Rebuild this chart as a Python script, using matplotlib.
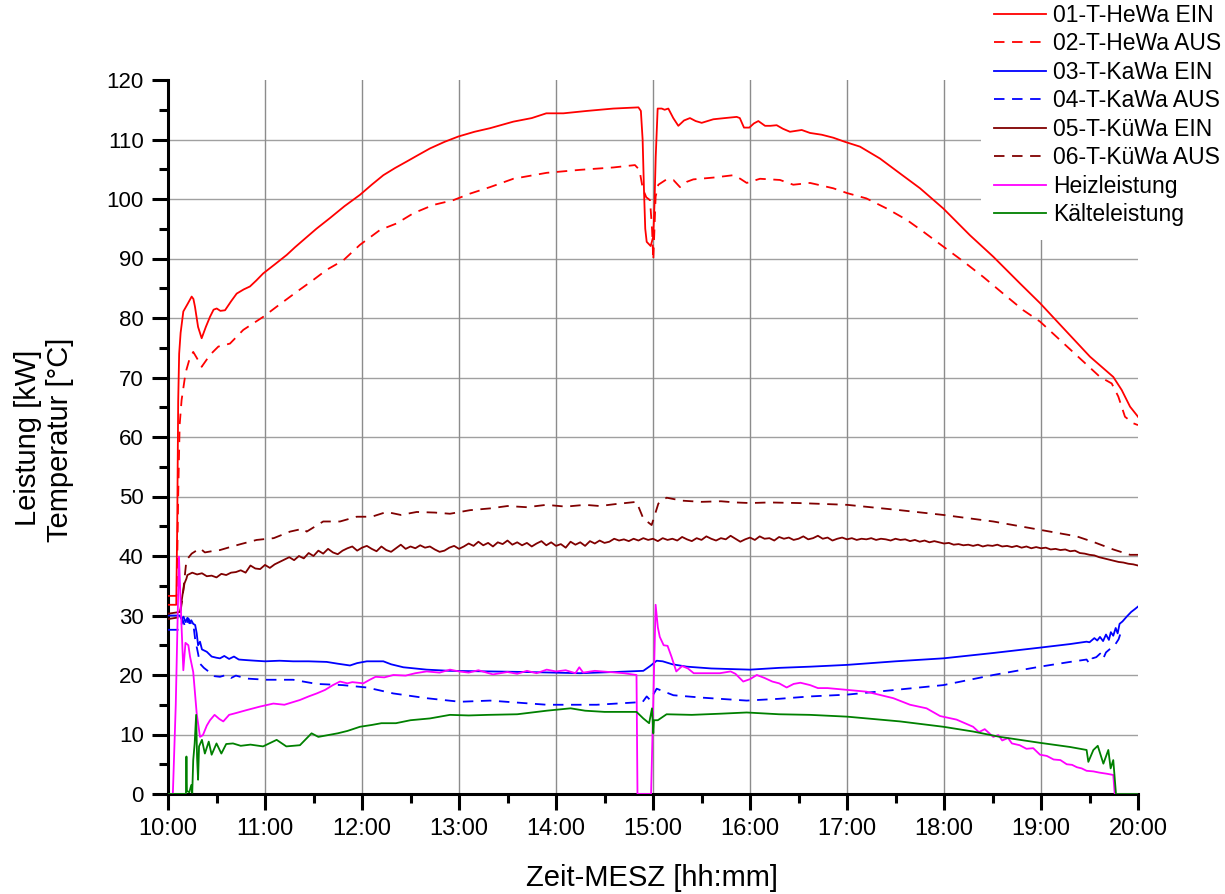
import numpy as np
import matplotlib
matplotlib.use('Agg')
import matplotlib.pyplot as plt
from matplotlib import font_manager
from matplotlib.ticker import MultipleLocator, FuncFormatter

# Schrift: Narrow fuer Achsen, falls vorhanden
names = {f.name for f in font_manager.fontManager.ttflist}
narrow = 'Liberation Sans Narrow' if 'Liberation Sans Narrow' in names else 'Liberation Sans'
plt.rcParams['font.family'] = 'Liberation Sans'

# ---- Daten (Zeit in Stunden) ----
# 01-T-HeWa EIN
hewa_ein_t = [10.0, 10.085, 10.095, 10.105, 10.115, 10.13, 10.158, 10.20, 10.244, 10.262, 10.278, 10.31,
              10.347, 10.39, 10.433, 10.47, 10.502, 10.54, 10.588, 10.65, 10.708, 10.78, 10.845, 10.91,
              10.982, 11.10, 11.224, 11.31, 11.395, 11.53, 11.67, 11.82, 11.979, 12.10, 12.22, 12.34,
              12.461, 12.58, 12.701, 12.85, 12.993, 13.16, 13.32, 13.56, 13.75, 13.90, 14.076, 14.317,
              14.59, 14.85, 14.875, 14.893, 14.907, 14.92, 14.935, 14.976, 15.003, 15.015, 15.028, 15.048,
              15.09, 15.12, 15.158, 15.209, 15.261, 15.32, 15.381, 15.44, 15.502, 15.622, 15.74, 15.863,
              15.895, 15.938, 15.993, 16.04, 16.086, 16.155, 16.21, 16.275, 16.34, 16.412, 16.533, 16.619,
              16.74, 16.859, 16.98, 17.134, 17.34, 17.546, 17.753, 17.993, 18.268, 18.508, 18.784, 18.99,
              19.23, 19.505, 19.745, 19.832, 19.918, 19.986, 20.0]
hewa_ein_v = [31.8, 31.8, 45.0, 66.0, 74.0, 77.5, 81.1, 82.3, 83.6, 83.2, 81.9, 78.5,
              76.6, 78.5, 80.2, 81.4, 81.6, 81.2, 81.3, 82.8, 84.1, 84.8, 85.3, 86.3,
              87.5, 89.0, 90.6, 91.9, 93.1, 95.0, 96.8, 98.8, 100.7, 102.4, 104.0, 105.2,
              106.3, 107.4, 108.5, 109.6, 110.5, 111.3, 111.9, 113.0, 113.6, 114.4, 114.4, 114.8,
              115.2, 115.4, 114.8, 110.0, 101.5, 95.0, 92.8, 92.1, 93.7, 99.0, 107.1, 115.2,
              115.2, 115.0, 115.2, 113.6, 112.3, 113.2, 113.6, 113.1, 112.8, 113.4, 113.6, 113.8,
              113.6, 112.0, 112.0, 112.7, 113.1, 112.3, 112.3, 112.4, 111.8, 111.3, 111.6, 111.1,
              110.8, 110.3, 109.6, 108.8, 106.8, 104.3, 101.8, 98.4, 93.9, 90.3, 85.8, 82.5,
              78.3, 73.5, 70.1, 67.9, 65.1, 63.7, 63.4]

# 02-T-HeWa AUS
hewa_aus_t = [10.0, 10.09, 10.105, 10.12, 10.14, 10.175, 10.19, 10.22, 10.26, 10.30, 10.347, 10.39,
              10.433, 10.519, 10.639, 10.776, 10.982, 11.12, 11.327, 11.498, 11.636, 11.808, 11.979, 12.186,
              12.358, 12.529, 12.735, 12.941, 13.113, 13.32, 13.56, 13.904, 14.247, 14.59, 14.814, 14.86,
              14.894, 14.93, 14.969, 14.99, 15.003, 15.015, 15.027, 15.055, 15.14, 15.21, 15.278, 15.35,
              15.416, 15.622, 15.828, 15.90, 15.966, 16.103, 16.309, 16.446, 16.619, 16.859, 17.0, 17.2,
              17.41, 17.615, 17.787, 17.993, 18.2, 18.405, 18.61, 18.818, 18.99, 19.196, 19.402, 19.608,
              19.729, 19.797, 19.866, 19.952, 20.0]
hewa_aus_v = [33.3, 33.3, 50.0, 62.0, 66.2, 70.1, 71.3, 73.0, 74.3, 73.2, 71.8, 72.8,
              73.8, 75.2, 75.7, 78.0, 80.2, 81.9, 84.4, 86.4, 88.1, 89.7, 92.3, 94.8,
              95.9, 97.6, 99.0, 99.8, 100.9, 102.0, 103.4, 104.4, 104.9, 105.3, 105.7, 104.9,
              101.8, 100.3, 99.8, 95.0, 89.7, 95.0, 100.4, 102.4, 103.3, 103.2, 102.0, 102.9,
              103.3, 103.6, 104.0, 103.4, 102.7, 103.4, 103.2, 102.4, 102.7, 101.8, 101.0, 100.1,
              98.4, 96.5, 94.5, 92.0, 89.5, 86.9, 84.1, 81.3, 79.4, 76.3, 73.2, 70.1,
              69.0, 66.8, 63.4, 62.3, 62.0]

# 03-T-KaWa EIN
kawa_ein_t = [10.0, 10.12, 10.14, 10.16, 10.18, 10.20, 10.22, 10.24, 10.26, 10.28, 10.296, 10.31,
              10.33, 10.35, 10.40, 10.45, 10.50, 10.536, 10.58, 10.63, 10.68, 10.73, 10.81, 10.9,
              11.0, 11.15, 11.29, 11.45, 11.636, 11.75, 11.876, 11.95, 12.05, 12.22, 12.30, 12.426,
              12.667, 12.907, 13.32, 13.7, 14.247, 14.6, 14.9, 14.97, 15.038, 15.1, 15.2, 15.35,
              15.6, 16.0, 16.3, 16.62, 17.0, 17.5, 17.993, 18.508, 18.99, 19.30, 19.47, 19.50,
              19.55, 19.58, 19.608, 19.64, 19.67, 19.70, 19.72, 19.745, 19.77, 19.79, 19.81, 19.84,
              19.883, 19.93, 19.97, 20.0]
kawa_ein_v = [30.0, 30.0, 29.4, 29.8, 28.9, 29.6, 28.7, 29.2, 28.6, 28.4, 27.0, 25.0,
              25.6, 24.3, 23.9, 23.1, 22.9, 22.8, 23.2, 22.7, 23.1, 22.6, 22.5, 22.4,
              22.3, 22.4, 22.3, 22.3, 22.2, 21.9, 21.6, 22.0, 22.3, 22.3, 21.8, 21.3,
              20.9, 20.7, 20.6, 20.5, 20.3, 20.5, 20.7, 21.5, 22.4, 22.3, 21.8, 21.4,
              21.1, 20.9, 21.2, 21.4, 21.7, 22.3, 22.8, 23.7, 24.6, 25.2, 25.6, 25.5,
              26.2, 25.8, 26.4, 25.7, 26.8, 25.9, 27.2, 26.6, 27.9, 27.0, 28.6, 29.0,
              29.8, 30.6, 31.1, 31.5]

# 04-T-KaWa AUS
kawa_aus_t = [10.0, 10.13, 10.15, 10.18, 10.21, 10.24, 10.26, 10.28, 10.31, 10.33, 10.37, 10.433,
              10.48, 10.536, 10.6, 10.65, 10.7, 10.81, 11.017, 11.29, 11.533, 11.8, 12.05, 12.323,
              12.667, 13.01, 13.32, 13.904, 14.42, 14.83, 14.89, 14.935, 14.97, 15.038, 15.21, 15.5,
              15.966, 16.3, 16.62, 17.0, 17.5, 17.993, 18.508, 18.99, 19.3, 19.47, 19.50, 19.53,
              19.57, 19.61, 19.64, 19.67, 19.72, 19.76, 19.80, 19.82]
kawa_aus_v = [27.6, 27.6, 29.3, 28.0, 29.5, 28.6, 28.7, 26.0, 23.6, 21.9, 21.2, 20.4,
              19.8, 19.7, 20.0, 19.5, 19.9, 19.4, 19.2, 19.2, 18.5, 18.3, 17.9, 16.9,
              16.1, 15.5, 15.7, 15.0, 15.0, 15.4, 15.4, 16.4, 15.8, 17.7, 16.6, 16.2,
              15.7, 16.0, 16.4, 16.7, 17.5, 18.3, 20.0, 21.4, 22.2, 22.6, 21.9, 22.8,
              23.0, 23.6, 22.7, 23.8, 24.5, 25.0, 26.0, 27.0]

# 05-T-KuWa EIN (Anlauf + Werte alle 3 min ab 10:12)
kuwa_ein_start_t = [10.0, 10.124, 10.15, 10.17, 10.19]
kuwa_ein_start_v = [30.3, 30.6, 33.5, 35.4, 36.2]
kuwa_ein_v = [36.8, 37.2, 36.9, 37.1, 36.6, 36.7, 36.4, 37.0, 36.8, 37.2,
              37.3, 37.6, 37.2, 38.4, 37.9, 37.8, 38.5, 38.0, 38.6, 39.0,
              39.4, 39.8, 39.3, 40.0, 39.6, 40.5, 40.0, 40.9, 40.4, 41.2,
              40.6, 40.3, 40.9, 41.3, 41.6, 40.9, 41.4, 41.7, 41.2, 40.8,
              41.6, 41.0, 40.7, 41.3, 41.9, 41.2, 41.6, 41.3, 41.8, 41.4,
              41.6, 41.1, 40.7, 40.9, 41.4, 41.7, 41.2, 41.6, 42.1, 41.7,
              42.4, 41.8, 42.2, 41.6, 42.3, 42.0, 42.6, 41.9, 42.3, 41.8,
              42.2, 41.6, 42.1, 42.5, 41.8, 42.3, 41.7, 42.0, 41.4, 42.4,
              41.9, 42.3, 41.7, 42.5, 42.1, 42.6, 42.2, 42.4, 42.9, 42.6,
              42.8, 42.5, 42.9, 42.6, 43.0, 42.7, 42.9, 42.5, 43.0, 42.7,
              42.9, 42.6, 43.2, 42.8, 42.5, 43.0, 42.7, 43.3, 42.9, 42.6,
              43.0, 42.8, 43.4, 42.9, 42.4, 42.8, 43.1, 42.7, 43.3, 42.9,
              43.0, 42.6, 43.2, 42.9, 43.1, 42.7, 42.9, 43.3, 42.8, 43.0,
              43.4, 42.9, 43.1, 42.6, 42.9, 43.1, 42.8, 43.0, 42.7, 42.9,
              42.8, 43.0, 42.7, 42.9, 42.8, 42.6, 42.9, 42.7, 42.8, 42.5,
              42.7, 42.4, 42.6, 42.3, 42.5, 42.3, 42.1, 42.2, 41.9, 42.0,
              41.8, 41.9, 41.7, 41.9, 41.6, 41.8, 41.7, 41.9, 41.6, 41.7,
              41.5, 41.7, 41.4, 41.6, 41.3, 41.5, 41.3, 41.4, 41.1, 41.2,
              41.0, 41.1, 40.8, 40.9, 40.5, 40.4, 40.2, 40.1, 39.8, 39.6,
              39.4, 39.2, 39.0, 38.9, 38.7, 38.6, 38.4]

# 06-T-KuWa AUS
kuwa_aus_t = [10.0, 10.12, 10.15, 10.19, 10.244, 10.33, 10.38, 10.45, 10.536, 10.64, 10.75, 10.914,
              11.09, 11.258, 11.395, 11.43, 11.6, 11.773, 11.945, 12.10, 12.254, 12.40, 12.564, 12.75,
              12.907, 13.113, 13.32, 13.50, 13.70, 13.90, 14.10, 14.30, 14.45, 14.60, 14.83, 14.9,
              14.986, 15.055, 15.14, 15.30, 15.50, 15.70, 15.85, 16.0, 16.2, 16.5, 17.0, 17.546,
              17.993, 18.508, 18.99, 19.368, 19.55, 19.745, 19.918, 20.0]
kuwa_aus_v = [29.4, 29.7, 33.0, 39.3, 40.4, 41.3, 40.6, 40.8, 41.0, 41.5, 42.0, 42.7,
              43.0, 44.1, 44.6, 44.1, 45.8, 45.8, 46.6, 46.6, 47.4, 46.9, 47.4, 47.3,
              47.1, 47.7, 48.0, 48.4, 48.2, 48.6, 48.3, 48.6, 48.4, 48.7, 49.1, 46.3,
              45.2, 48.8, 49.8, 49.3, 49.1, 49.2, 49.0, 48.9, 49.0, 48.9, 48.6, 47.7,
              46.9, 45.8, 44.4, 43.3, 42.3, 41.1, 40.2, 40.2]

# Heizleistung
heiz_t = [10.0, 10.05, 10.08, 10.113, 10.14, 10.158, 10.18, 10.21, 10.227, 10.26, 10.296, 10.33,
          10.36, 10.40, 10.433, 10.48, 10.53, 10.57, 10.63, 10.70, 10.81, 10.95, 11.086, 11.2,
          11.28, 11.36, 11.45, 11.533, 11.62, 11.70, 11.773, 11.85, 11.90, 12.014, 12.08, 12.14,
          12.23, 12.323, 12.45, 12.55, 12.667, 12.80, 12.907, 13.0, 13.1, 13.2, 13.35, 13.5,
          13.6, 13.7, 13.8, 13.904, 14.0, 14.1, 14.2, 14.24, 14.28, 14.4, 14.55, 14.7,
          14.83, 14.84, 14.98, 15.027, 15.05, 15.07, 15.11, 15.15, 15.19, 15.24, 15.30, 15.36,
          15.42, 15.55, 15.69, 15.80, 15.85, 15.93, 16.0, 16.07, 16.15, 16.23, 16.30, 16.378,
          16.45, 16.52, 16.62, 16.70, 16.80, 17.0, 17.2, 17.478, 17.65, 17.82, 17.96, 18.13,
          18.3, 18.36, 18.42, 18.508, 18.56, 18.60, 18.66, 18.70, 18.78, 18.85, 18.92, 18.99,
          19.06, 19.13, 19.20, 19.265, 19.32, 19.37, 19.42, 19.47, 19.54, 19.60, 19.68, 19.745,
          19.76, 20.0]
heiz_v = [0.0, 0.0, 15.0, 39.9, 28.0, 20.8, 25.4, 25.0, 23.1, 20.5, 13.5, 9.6,
          9.9, 11.5, 12.4, 13.3, 12.6, 12.2, 13.3, 13.6, 14.1, 14.7, 15.2, 15.0,
          15.4, 15.8, 16.4, 16.9, 17.5, 18.3, 18.9, 18.6, 18.8, 18.6, 19.2, 19.7,
          19.6, 20.0, 19.9, 20.3, 20.6, 20.4, 20.9, 20.6, 20.4, 20.8, 20.1, 20.5,
          20.2, 20.7, 20.3, 20.9, 20.6, 20.8, 20.3, 21.3, 20.4, 20.7, 20.5, 20.3,
          20.0, 0.0, 0.0, 31.8, 28.0, 26.4, 25.0, 24.9, 23.1, 20.6, 21.5, 21.1,
          20.3, 20.3, 20.3, 20.6, 20.2, 18.9, 19.3, 20.0, 19.5, 18.9, 18.6, 17.9,
          18.5, 18.7, 18.3, 17.8, 17.8, 17.5, 17.2, 16.1, 15.0, 14.4, 13.1, 12.5,
          11.3, 10.4, 10.9, 9.6, 9.9, 9.0, 9.4, 8.5, 8.2, 7.6, 7.7, 6.6,
          6.4, 5.8, 5.7, 5.0, 4.9, 4.5, 4.3, 3.9, 3.8, 3.6, 3.4, 3.2,
          0.0, 0.0]

# Kaelteleistung
kaelte_t = [10.0, 10.185, 10.19, 10.195, 10.22, 10.24, 10.25, 10.26, 10.275, 10.29, 10.30, 10.31,
            10.32, 10.35, 10.38, 10.42, 10.45, 10.50, 10.55, 10.60, 10.67, 10.75, 10.85, 10.98,
            11.12, 11.22, 11.36, 11.48, 11.55, 11.65, 11.75, 11.85, 11.979, 12.1, 12.2, 12.35,
            12.5, 12.7, 12.907, 13.1, 13.3, 13.6, 13.904, 14.15, 14.3, 14.5, 14.83, 14.9,
            14.96, 14.99, 15.003, 15.01, 15.05, 15.14, 15.4, 15.7, 15.966, 16.3, 16.62, 17.0,
            17.546, 17.993, 18.3, 18.577, 18.99, 19.30, 19.47, 19.488, 19.54, 19.585, 19.643, 19.694,
            19.718, 19.745, 19.773, 20.0]
kaelte_v = [0.0, 0.0, 6.3, 0.5, 0.3, 1.5, 0.2, 5.7, 8.5, 13.3, 6.0, 2.4,
            8.0, 9.1, 6.8, 8.8, 6.6, 8.5, 6.8, 8.4, 8.5, 8.1, 8.3, 8.0,
            9.1, 8.0, 8.2, 10.2, 9.6, 9.9, 10.2, 10.6, 11.3, 11.6, 11.9, 11.9,
            12.4, 12.7, 13.3, 13.2, 13.3, 13.4, 14.0, 14.4, 14.0, 13.8, 13.8, 12.7,
            11.9, 14.4, 10.2, 12.4, 12.4, 13.4, 13.3, 13.5, 13.7, 13.4, 13.3, 13.0,
            12.2, 11.3, 10.5, 9.6, 8.6, 7.9, 7.4, 5.4, 7.4, 8.1, 5.1, 7.4,
            4.3, 5.7, 0.0, 0.0]

y_grid = [10, 20, 30, 40, 50, 60, 70, 80, 90, 100, 110]
x_grid = [11, 12, 13, 14, 15, 16, 17, 18, 19]

# ---- Plot ----
fig = plt.figure(figsize=(12.25, 8.94), dpi=100)
ax = fig.add_axes([168/1225, 100/894, 970/1225, 714/894])

lw = 1.3
dash = (0, (5.8, 4.2))
kuwa_ein_t = list(kuwa_ein_start_t) + list(np.linspace(10.2, 20.0, len(kuwa_ein_v)))
kuwa_ein_all = list(kuwa_ein_start_v) + kuwa_ein_v

ax.plot(hewa_ein_t, hewa_ein_v, color='#ff0000', lw=lw, label='01-T-HeWa EIN', zorder=3)
ax.plot(hewa_aus_t, hewa_aus_v, color='#ff0000', lw=lw, ls=dash, label='02-T-HeWa AUS', zorder=3)
ax.plot(kawa_ein_t, kawa_ein_v, color='#0000ff', lw=lw, label='03-T-KaWa EIN', zorder=3)
ax.plot(kawa_aus_t, kawa_aus_v, color='#0000ff', lw=lw, ls=dash, label='04-T-KaWa AUS', zorder=3)
ax.plot(kuwa_ein_t, kuwa_ein_all, color='#800000', lw=lw, label='05-T-KüWa EIN', zorder=3)
ax.plot(kuwa_aus_t, kuwa_aus_v, color='#800000', lw=lw, ls=dash, label='06-T-KüWa AUS', zorder=3)
ax.plot(heiz_t, heiz_v, color='#ff00ff', lw=lw, label='Heizleistung', zorder=3)
ax.plot(kaelte_t, kaelte_v, color='#008000', lw=lw, label='Kälteleistung', zorder=3)

# Gitter
for y in y_grid:
    ax.axhline(y, color='#a0a0a0', lw=1.0, zorder=1)
for x in x_grid:
    ax.axvline(x, color='#8c8c8c', lw=1.0, zorder=1)

ax.set_xlim(10, 20)
ax.set_ylim(0, 120)
ax.xaxis.set_major_locator(MultipleLocator(1))
ax.xaxis.set_minor_locator(MultipleLocator(0.5))
ax.yaxis.set_major_locator(MultipleLocator(10))
ax.yaxis.set_minor_locator(MultipleLocator(5))
ax.xaxis.set_major_formatter(FuncFormatter(lambda x, p: '%02d:00' % int(round(x))))

ax.spines['top'].set_visible(False)
ax.spines['right'].set_visible(False)
for s in ['left', 'bottom']:
    ax.spines[s].set_linewidth(2.2)
ax.tick_params(which='major', direction='out', length=11.5, width=2.2, pad=6,
               labelsize=17, labelfontfamily=narrow)
ax.tick_params(axis='y', which='major', labelsize=16)
ax.tick_params(which='minor', direction='out', length=6.5, width=2.2)

fig.text(652/1225, 1 - 878/894, 'Zeit-MESZ [hh:mm]', ha='center', va='center',
         fontsize=21, family=narrow)
fig.text(28/1225, 1 - 438/894, 'Leistung [kW]', rotation=90, ha='center', va='center', fontsize=21)
fig.text(60/1225, 1 - 440/894, 'Temperatur [°C]', rotation=90, ha='center', va='center', fontsize=21)

fig.legend(loc='upper right', bbox_to_anchor=(1.008, 1.011), fontsize=16.5, frameon=True,
           fancybox=False, edgecolor='none', facecolor='white', framealpha=1,
           borderpad=0.6, borderaxespad=0, labelspacing=0.24, handlelength=2.25,
           handletextpad=0.3)

fig.savefig('out.png', dpi=100)
